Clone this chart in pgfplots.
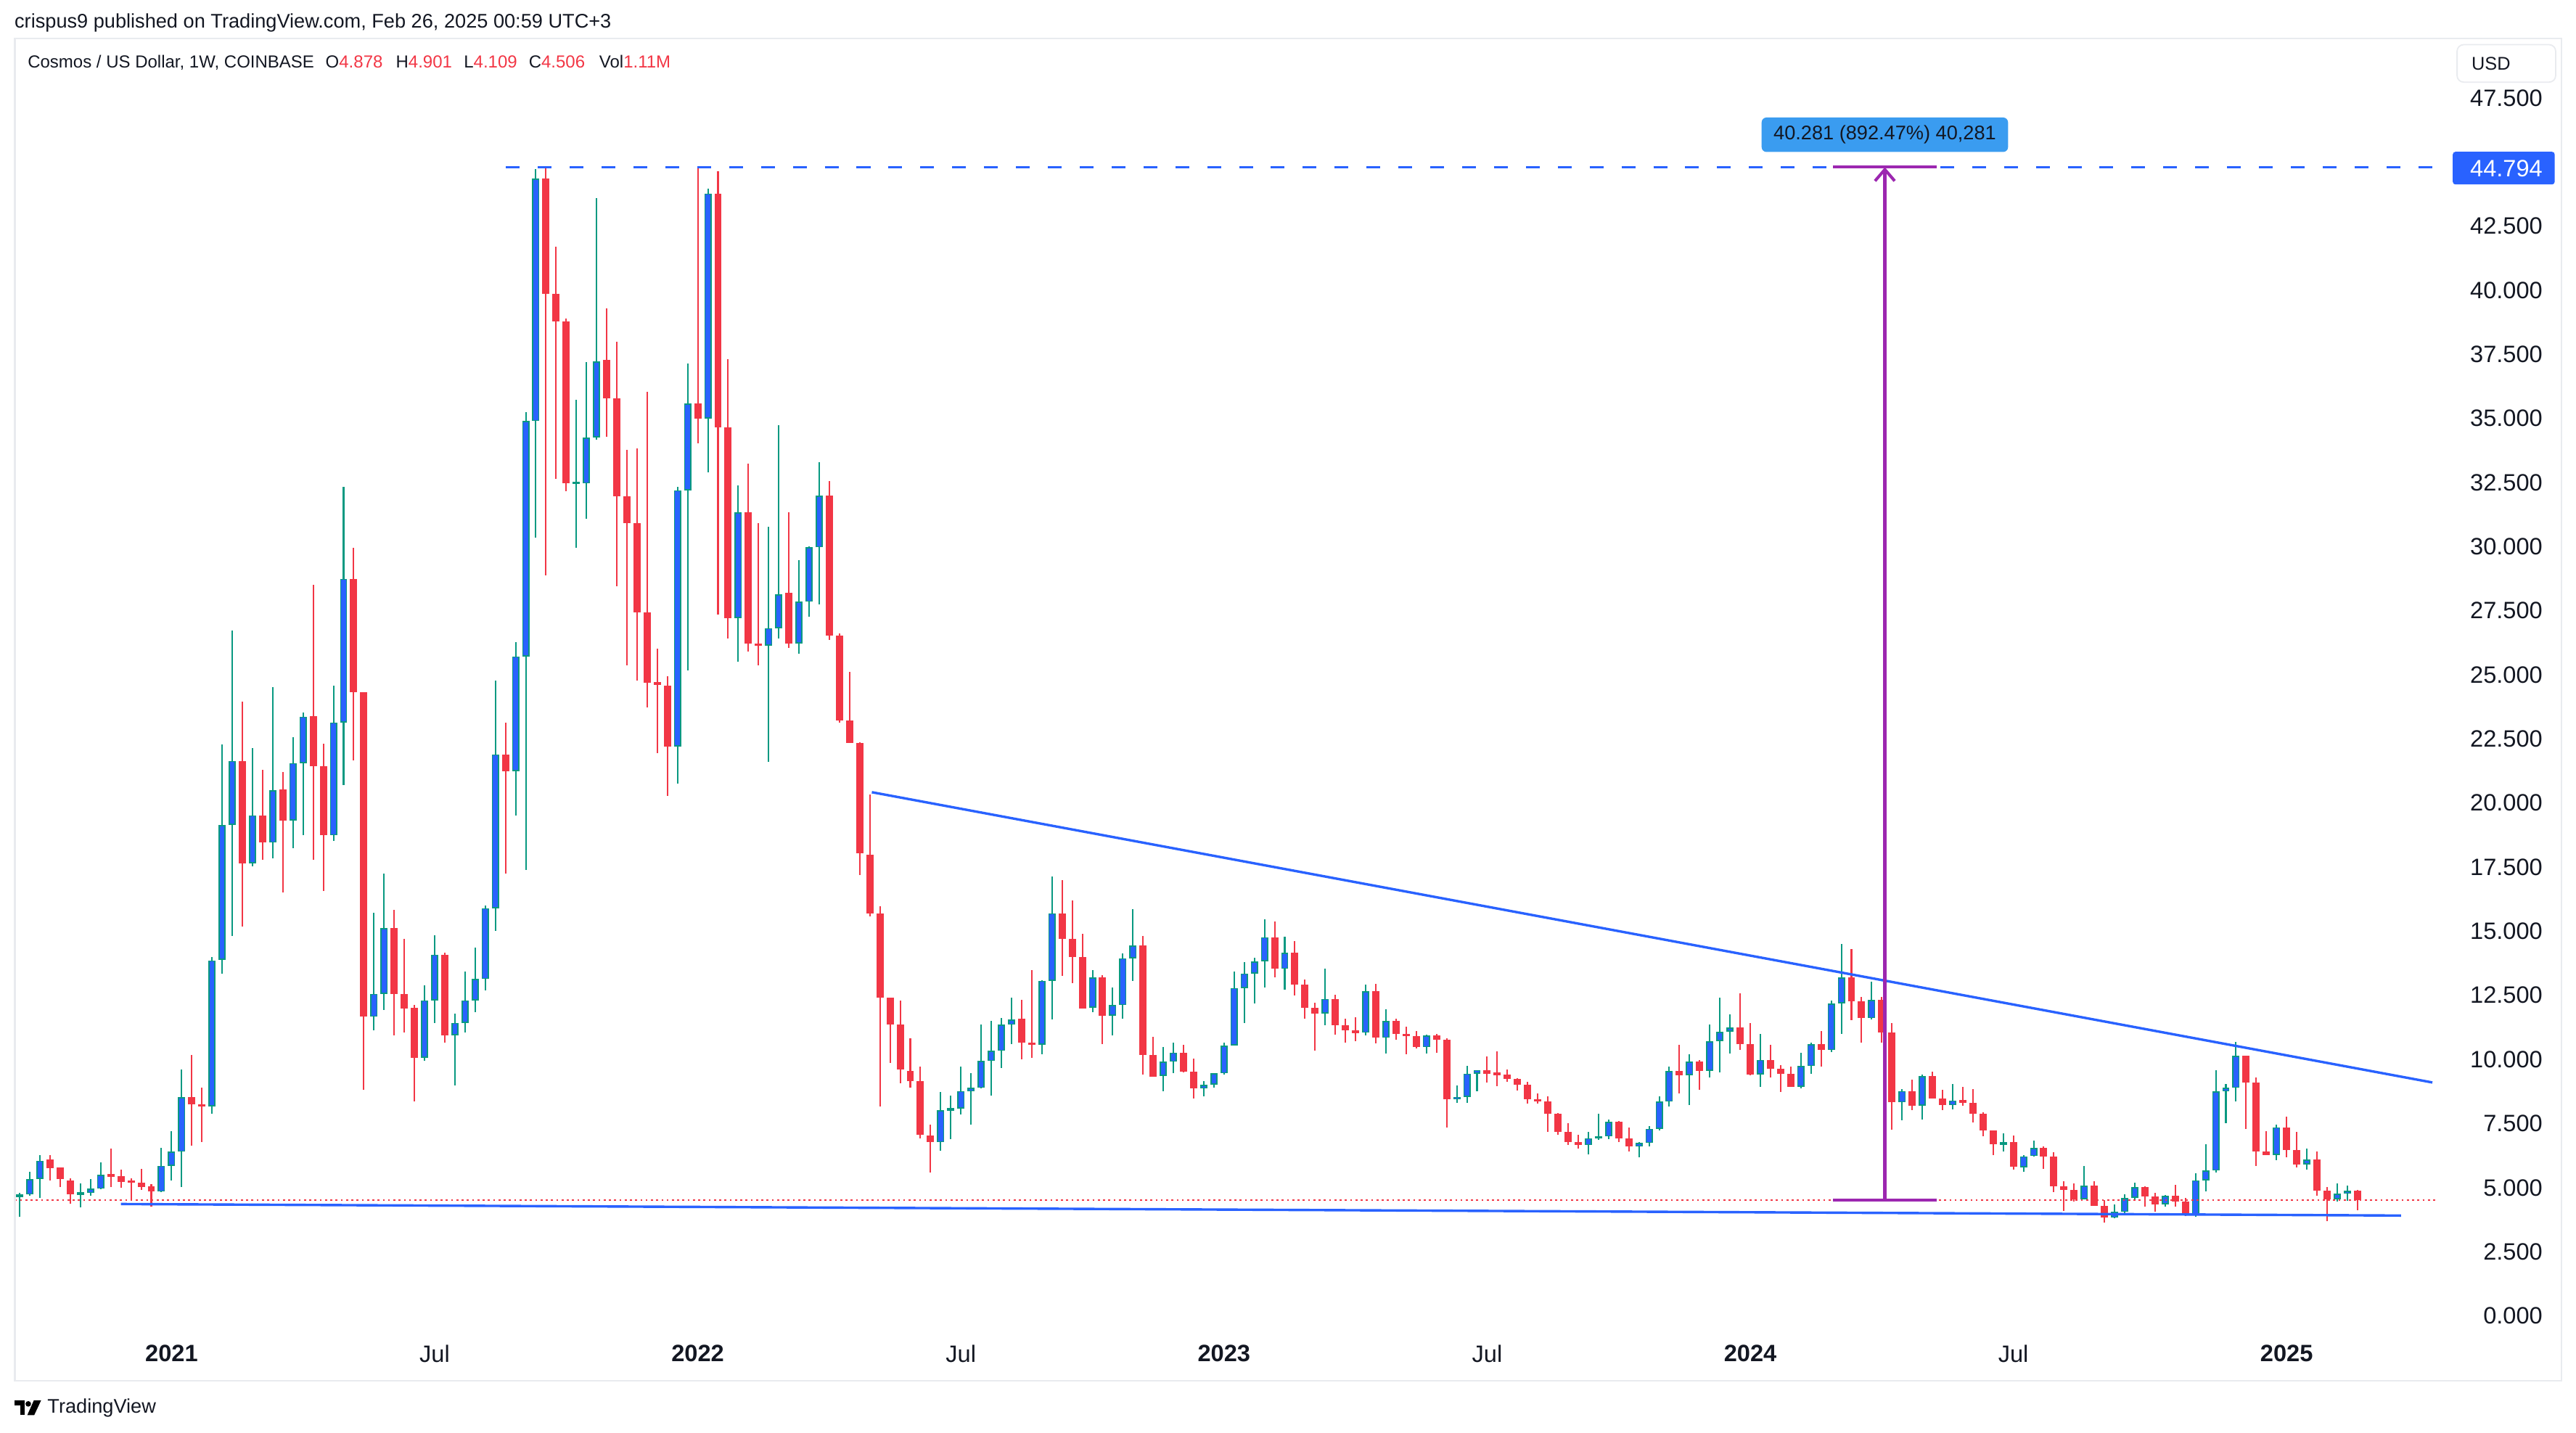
\documentclass[border=0pt]{standalone}
\usepackage{pgfplots}
\pgfplotsset{compat=1.18}
\usepackage{pgfplotstable}
\usepackage{fontspec}
\setmainfont{Liberation Sans}
\usetikzlibrary{arrows.meta}

\definecolor{tvred}{HTML}{F23645}
\definecolor{tvteal}{HTML}{089981}
\definecolor{tvblue}{HTML}{2962FF}
\definecolor{tvpurple}{HTML}{9C27B0}
\definecolor{tvlabel}{HTML}{3A9CF0}
\definecolor{tvtext}{HTML}{131722}
\definecolor{tvframe}{HTML}{E9EBEF}

\newcommand{\fs}[1]{\fontsize{#1}{#1}\selectfont}

% weekly candles, ATOM/USD, week 0 = 21 Sep 2020
\pgfplotstableread{
i o h l c
0 4.66 4.81 3.85 4.72
1 4.73 5.63 4.69 5.32
2 5.34 6.28 4.61 6.05
3 6.10 6.28 5.29 5.75
4 5.78 5.78 5.02 5.32
5 5.29 5.37 4.38 4.73
6 4.74 5.17 4.23 4.80
7 4.79 5.34 4.69 4.96
8 4.96 5.98 4.93 5.49
9 5.49 6.51 5.02 5.46
10 5.45 5.70 4.99 5.22
11 5.24 5.37 4.50 5.22
12 5.19 5.72 4.92 5.02
13 5.04 5.14 4.26 4.84
14 4.84 6.54 4.82 5.85
15 5.85 7.19 5.29 6.40
16 6.40 9.62 5.02 8.52
17 8.52 10.18 6.63 8.25
18 8.25 8.90 6.78 8.17
19 8.17 13.98 7.87 13.86
20 13.89 22.27 13.33 19.14
21 19.14 26.72 14.82 21.64
22 21.64 23.94 15.19 17.65
23 17.65 22.15 17.54 19.52
24 19.52 21.29 17.77 18.45
25 18.45 24.52 17.85 20.50
26 20.53 21.21 16.51 19.32
27 19.32 22.58 18.23 21.55
28 21.55 23.52 18.76 23.37
29 23.40 28.50 17.77 21.44
30 21.44 22.32 16.56 18.74
31 18.74 24.58 18.51 23.14
32 23.14 32.32 20.71 28.74
33 28.74 29.96 21.67 24.33
34 24.33 24.33 8.80 11.66
35 11.66 15.71 11.13 12.56
36 12.56 17.26 11.94 15.11
37 15.11 15.83 10.94 12.56
38 12.56 14.71 11.06 11.99
39 12.01 12.13 8.37 10.06
40 10.06 12.90 9.94 12.30
41 12.30 14.83 11.42 14.09
42 14.09 14.16 10.66 10.94
43 10.94 11.78 8.99 11.42
44 11.42 13.44 11.06 12.30
45 12.30 14.35 11.85 13.14
46 13.14 16.00 12.68 15.90
47 15.90 24.76 15.00 21.90
48 21.90 23.14 17.26 21.24
49 21.24 26.26 19.52 25.72
50 25.72 35.25 17.38 34.89
51 34.89 44.73 30.36 44.35
52 44.35 44.79 28.88 39.85
53 39.85 41.68 32.63 38.77
54 38.77 38.90 32.15 32.46
55 32.46 35.72 29.96 32.50
56 32.46 37.20 31.08 34.25
57 34.25 43.59 34.17 37.22
58 37.27 39.30 34.29 35.77
59 35.77 37.99 28.46 31.96
60 31.96 33.77 25.36 30.91
61 30.91 33.82 24.76 27.43
62 27.43 36.03 23.74 24.69
63 24.69 26.03 21.95 24.62
64 24.57 24.95 20.28 22.21
65 22.21 32.34 20.76 32.20
66 32.19 37.14 25.17 35.57
67 35.57 44.79 34.03 35.00
68 35.00 43.95 32.90 43.77
69 43.77 44.63 27.35 34.65
70 34.65 37.30 26.41 27.22
71 27.22 32.38 25.52 31.33
72 31.33 33.24 25.91 26.22
73 26.22 30.91 25.38 26.14
74 26.14 30.78 21.59 26.82
75 26.82 34.73 26.41 28.13
76 28.19 31.35 26.04 26.22
77 26.22 29.47 25.83 27.85
78 27.85 30.02 27.27 29.97
79 29.97 33.29 27.74 31.98
80 31.98 32.56 26.35 26.54
81 26.54 26.62 23.13 23.21
82 23.21 25.12 22.35 22.35
83 22.35 22.38 17.19 18.03
84 17.98 20.33 15.57 15.70
85 15.70 15.96 8.16 12.40
86 12.40 12.42 9.86 11.37
87 11.37 12.29 9.07 9.60
88 9.55 10.82 8.89 9.15
89 9.15 9.73 6.92 7.06
90 7.04 7.45 5.59 6.77
91 6.77 8.73 6.45 8.02
92 8.02 8.60 6.90 8.08
93 8.08 9.73 7.84 8.76
94 8.76 9.46 7.45 8.89
95 8.89 11.35 8.87 9.94
96 9.94 11.51 8.60 10.33
97 10.33 11.61 9.65 11.35
98 11.35 12.42 10.59 11.56
99 11.60 12.31 10.00 10.66
100 10.66 13.47 10.05 10.57
101 10.57 13.09 10.20 13.07
102 13.07 17.12 11.55 15.70
103 15.70 16.98 13.25 14.70
104 14.70 16.19 12.97 13.99
105 13.99 14.91 11.98 11.98
106 12.01 13.47 11.84 13.19
107 13.19 13.28 10.59 11.70
108 11.70 12.79 10.94 12.12
109 12.12 14.13 11.58 13.94
110 13.94 15.85 13.06 14.44
111 14.44 14.82 9.41 10.17
112 10.17 10.89 9.32 9.32
113 9.35 10.47 8.75 9.91
114 9.91 10.64 9.46 10.26
115 10.26 10.57 9.48 9.51
116 9.51 10.04 8.47 8.87
117 8.87 9.15 8.56 9.01
118 9.01 9.46 8.91 9.46
119 9.46 10.64 9.41 10.54
120 10.54 13.44 10.53 12.78
121 12.78 13.80 11.41 13.35
122 13.35 13.97 12.17 13.82
123 13.82 15.45 12.79 14.76
124 14.76 15.38 13.19 13.53
125 13.53 14.79 12.71 14.15
126 14.15 14.62 12.50 12.93
127 12.93 13.12 11.58 12.01
128 12.01 12.21 10.34 11.79
129 11.79 13.54 11.33 12.36
130 12.36 12.51 10.97 11.33
131 11.33 11.60 10.66 11.14
132 11.13 11.65 10.70 11.04
133 11.04 12.93 10.93 12.66
134 12.66 12.94 10.63 10.84
135 10.84 11.95 10.23 11.50
136 11.50 11.60 10.76 10.98
137 10.98 11.27 10.19 10.92
138 10.92 11.10 10.44 10.47
139 10.47 10.96 10.23 10.93
140 10.93 10.99 10.26 10.77
141 10.77 10.82 7.33 8.44
142 8.44 8.98 8.30 8.54
143 8.54 9.76 8.30 9.45
144 9.45 9.59 8.77 9.59
145 9.59 10.11 9.10 9.43
146 9.47 10.32 8.95 9.41
147 9.41 9.61 9.12 9.25
148 9.25 9.28 8.79 9.01
149 9.01 9.12 8.29 8.46
150 8.46 8.68 8.27 8.35
151 8.35 8.56 7.16 7.88
152 7.88 7.90 7.05 7.16
153 7.16 7.52 6.65 6.79
154 6.79 7.07 6.51 6.65
155 6.65 7.17 6.29 6.93
156 6.93 7.88 6.86 6.99
157 6.99 7.64 6.89 7.57
158 7.57 7.61 6.79 6.93
159 6.93 7.35 6.41 6.60
160 6.60 6.79 6.18 6.74
161 6.74 7.40 6.62 7.30
162 7.30 8.56 7.22 8.35
163 8.35 9.72 8.16 9.55
164 9.55 10.57 8.67 9.38
165 9.38 10.21 8.21 9.91
166 9.91 9.98 8.80 9.55
167 9.55 11.35 9.30 10.71
168 10.71 12.41 9.49 11.08
169 11.08 11.77 10.23 11.25
170 11.25 12.59 10.37 10.59
171 10.59 11.42 9.37 9.41
172 9.41 10.98 8.92 9.98
173 9.98 10.57 9.29 9.63
174 9.63 9.79 8.72 9.43
175 9.43 9.72 8.94 8.94
176 8.94 10.26 8.87 9.74
177 9.74 10.66 9.43 10.59
178 10.59 11.11 9.71 10.36
179 10.36 12.29 10.28 12.18
180 12.18 14.51 10.99 13.20
181 13.20 14.29 11.52 12.26
182 12.26 12.45 10.64 11.61
183 11.61 13.04 11.55 12.31
184 12.31 12.43 10.66 11.06
185 11.06 11.42 7.27 8.33
186 8.33 8.83 7.62 8.77
187 8.77 9.22 8.02 8.19
188 8.19 9.41 7.64 9.34
189 9.34 9.53 8.47 8.47
190 8.47 8.80 8.02 8.21
191 8.21 9.05 8.04 8.40
192 8.40 8.92 8.19 8.31
193 8.31 8.83 7.53 7.87
194 7.87 7.95 6.99 7.22
195 7.22 7.24 6.28 6.68
196 6.68 7.13 6.42 6.77
197 6.77 7.03 5.70 5.82
198 5.80 6.27 5.62 6.22
199 6.23 6.82 6.20 6.55
200 6.55 6.60 5.73 6.20
201 6.20 6.39 4.82 5.04
202 5.04 5.26 4.08 4.90
203 4.90 5.17 4.46 4.53
204 4.55 5.83 4.53 5.07
205 5.07 5.26 4.29 4.29
206 4.29 4.52 3.64 3.82
207 3.82 4.35 3.80 4.05
208 4.05 4.74 3.94 4.60
209 4.60 5.19 4.53 5.02
210 5.02 5.04 4.25 4.65
211 4.65 4.81 4.05 4.35
212 4.35 4.70 4.25 4.68
213 4.68 5.12 4.27 4.46
214 4.46 4.60 3.89 3.96
215 3.96 5.57 3.86 5.28
216 5.28 6.68 4.86 5.67
217 5.67 9.58 5.60 8.75
218 8.75 9.05 7.51 8.89
219 8.89 10.68 8.35 10.14
220 10.14 10.14 7.29 9.10
221 9.10 9.30 5.85 6.41
222 6.41 7.21 6.27 6.27
223 6.27 7.46 6.06 7.35
224 7.35 7.78 6.18 6.46
225 6.46 7.18 5.78 5.90
226 5.90 6.53 5.70 6.09
227 6.09 6.41 4.68 4.88
228 4.88 5.02 3.69 4.55
229 4.55 5.17 4.46 4.77
230 4.77 5.09 4.49 4.88
231 4.878 4.901 4.109 4.506
}\candles

\pgfplotsset{
  candle/.style 2 args={only marks, mark size=0pt, mark options={draw=none, fill=none},
    error bars/y dir=both, error bars/y explicit, error bars/error mark=none,
    error bars/error bar style={line width=#2, draw=#1}},
}

\begin{document}
\begin{tikzpicture}
\begin{axis}[
  at={(4.5pt,-405pt)}, anchor=south west,
  scale only axis, width=737pt, height=393.25pt,
  xmin=-0.49, xmax=238.8, ymin=-0.577, ymax=49.81,
  axis line style={draw=none}, tick style={draw=none},
  major tick length=0pt,
  ytick={0,2.5,5,7.5,10,12.5,15,17.5,20,22.5,25,27.5,30,32.5,35,37.5,40,42.5,47.5},
  ytick pos=right, yticklabel pos=right,
  yticklabel={\pgfmathprintnumber[fixed,fixed zerofill,precision=3,1000 sep={},assume math mode=true]{\tick}},
  yticklabel style={anchor=east, inner sep=0pt, xshift=32.5pt, font=\fs{7.2}, text=tvtext},
  xtick={15,41,67,93,119,145,171,197,224},
  xticklabels={\textbf{2021},Jul,\textbf{2022},Jul,\textbf{2023},Jul,\textbf{2024},Jul,\textbf{2025}},
  xticklabel style={anchor=center, inner sep=0pt, yshift=-7pt, font=\fs{7.2}, text=tvtext},
]
% wicks
\addplot[candle={tvteal}{0.45pt}, restrict expr to domain={\thisrow{c}-\thisrow{o}}{0:1000}]
  table[x=i, y expr={(\thisrow{h}+\thisrow{l})/2}, y error expr={(\thisrow{h}-\thisrow{l})/2}] {\candles};
\addplot[candle={tvred}{0.45pt}, restrict expr to domain={\thisrow{o}-\thisrow{c}}{0:1000}]
  table[x=i, y expr={(\thisrow{h}+\thisrow{l})/2}, y error expr={(\thisrow{h}-\thisrow{l})/2}] {\candles};
% bodies
\addplot[candle={tvteal}{2.2pt}, restrict expr to domain={\thisrow{c}-\thisrow{o}}{0:1000}]
  table[x=i, y expr={(\thisrow{o}+\thisrow{c})/2}, y error expr={max(abs(\thisrow{c}-\thisrow{o})/2,0.05)}] {\candles};
\addplot[candle={tvblue}{1.45pt}, restrict expr to domain={\thisrow{c}-\thisrow{o}}{0:1000}]
  table[x=i, y expr={(\thisrow{o}+\thisrow{c})/2}, y error expr={max(abs(\thisrow{c}-\thisrow{o})/2-0.045,0)}] {\candles};
\addplot[candle={tvred}{2.2pt}, restrict expr to domain={\thisrow{o}-\thisrow{c}}{0:1000}]
  table[x=i, y expr={(\thisrow{o}+\thisrow{c})/2}, y error expr={max(abs(\thisrow{c}-\thisrow{o})/2,0.05)}] {\candles};

% current price line
\addplot[tvred, line width=0.55pt, dash pattern=on 0.6pt off 1.0pt] coordinates {(-0.49,4.506) (238.8,4.506)};
% all-time-high line
\addplot[tvblue, line width=0.7pt, dash pattern=on 4.2pt off 5.5pt] coordinates {(48.05,44.794) (238.8,44.794)};
% trend lines
\addplot[tvblue, line width=0.75pt] coordinates {(84.2,20.42) (238.4,9.10)};
\addplot[tvblue, line width=0.75pt] coordinates {(10.0,4.36) (235.3,3.91)};
% measure tool
\addplot[tvpurple, line width=0.9pt] coordinates {(179.2,4.513) (189.4,4.513)};
\addplot[tvpurple, line width=0.9pt] coordinates {(179.2,44.794) (189.4,44.794)};
\addplot[tvpurple, line width=0.9pt, -{Straight Barb[length=3.5pt,width=6pt]}] coordinates {(184.3,4.513) (184.3,44.794)};
\node[fill=tvlabel, rounded corners=1.5pt, inner sep=0pt, minimum width=75pt, minimum height=10.5pt,
  text=tvtext, font=\fs{6}] at (axis cs:184.3,46.06) {40.281 (892.47\%) 40,281};
\end{axis}

\begin{scope}[x=0.5pt, y=-0.5pt]
\path (0,0) rectangle (1568,872);
\draw[tvframe, line width=0.5pt] (9,23.5) rectangle (1559,840.5);
% header
\node[anchor=base west, inner sep=0pt, text=tvtext, font=\fs{6}] at (8.5,17) {crispus9 published on TradingView.com, Feb 26, 2025 00:59 UTC+3};
% legend line
\node[anchor=base west, inner sep=0pt, text=tvtext, font=\fs{5.3}] at (16.5,41.5) {Cosmos / US Dollar, 1W, COINBASE};
\node[anchor=base west, inner sep=0pt, font=\fs{5.3}] at (197.8,41.5) {\textcolor{tvtext}{O}\textcolor{tvred}{4.878}};
\node[anchor=base west, inner sep=0pt, font=\fs{5.3}] at (240.6,41.5) {\textcolor{tvtext}{H}\textcolor{tvred}{4.901}};
\node[anchor=base west, inner sep=0pt, font=\fs{5.3}] at (282,41.5) {\textcolor{tvtext}{L}\textcolor{tvred}{4.109}};
\node[anchor=base west, inner sep=0pt, font=\fs{5.3}] at (321.5,41.5) {\textcolor{tvtext}{C}\textcolor{tvred}{4.506}};
\node[anchor=base west, inner sep=0pt, font=\fs{5.3}] at (364.4,41.5) {\textcolor{tvtext}{Vol}\textcolor{tvred}{1.11M}};
% currency box
\draw[tvframe, line width=0.4pt, rounded corners=2pt] (1495.6,27.2) rectangle (1555.6,50);
\node[anchor=west, inner sep=0pt, text=tvtext, font=\fs{5.6}] at (1504,38.6) {USD};
% ATH price label
\fill[tvblue, rounded corners=0.8pt] (1493,92.4) rectangle (1555,112.3);
\node[anchor=east, inner sep=0pt, text=white, font=\fs{7.2}] at (1548,102.4) {44.794};
% footer logo
\fill[black] (9,852.5) rectangle (15,855.6);
\fill[black] (12.3,852.5) rectangle (15,861.5);
\fill[black] (17.2,854.6) circle (1.7);
\fill[black] (20.6,852.5) -- (25,852.5) -- (20.8,861.5) -- (16.6,861.5) -- cycle;
\node[anchor=west, inner sep=0pt, text=tvtext, font=\fs{6}] at (28.5,857) {TradingView};
\end{scope}
\end{tikzpicture}
\end{document}
